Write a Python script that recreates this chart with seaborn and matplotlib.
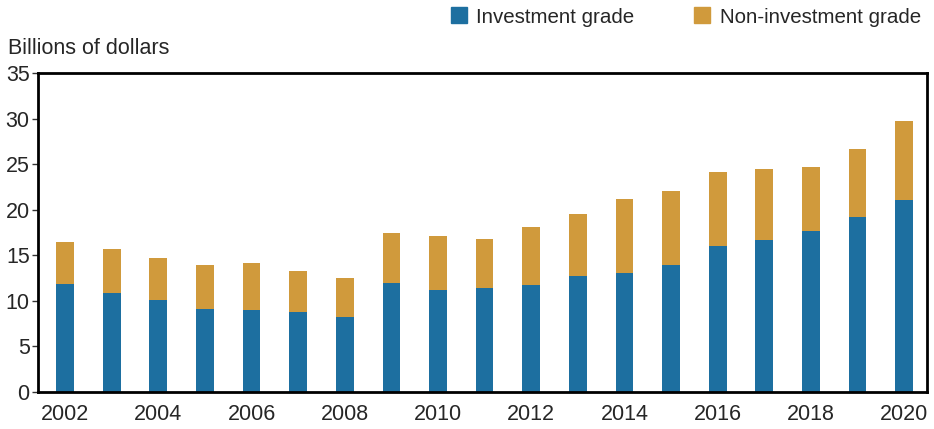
import matplotlib
matplotlib.use("Agg")
import matplotlib.pyplot as plt
import seaborn as sns
import pandas as pd
from matplotlib.patches import Patch

years = list(range(2002, 2021))
investment = [11.8, 10.9, 10.1, 9.1, 9.0, 8.8, 8.2, 12.0, 11.2, 11.4, 11.7, 12.7,
              13.1, 13.9, 16.0, 16.7, 17.7, 19.2, 21.1]
total = [16.5, 15.7, 14.7, 13.9, 14.2, 13.3, 12.5, 17.4, 17.1, 16.8, 18.1, 19.5,
         21.2, 22.1, 24.1, 24.5, 24.7, 26.7, 29.7]
non_investment = [t - i for t, i in zip(total, investment)]

blue = "#1d6fa0"
gold = "#d09a3c"

sns.set_style("white")
plt.rcParams["font.family"] = ["Liberation Sans", "DejaVu Sans"]

df = pd.DataFrame({"year": [str(y) for y in years], "inv": investment,
                   "non": non_investment})
df["total"] = df["inv"] + df["non"]

fig = plt.figure(figsize=(9.34, 4.29), dpi=100)
ax = fig.add_axes([38 / 934, 1 - 392 / 429, (927 - 38) / 934, (392 - 73) / 429])

sns.barplot(data=df, x="year", y="total", color=gold, width=0.38, ax=ax,
            saturation=1, linewidth=0)
sns.barplot(data=df, x="year", y="inv", color=blue, width=0.38, ax=ax,
            saturation=1, linewidth=0)

ax.set_xlim(-0.58, 18.49)
ax.set_ylim(0, 35)
ax.set_yticks(range(0, 36, 5))
ax.set_xticks(range(0, 19, 2))
ax.set_xticklabels([str(y) for y in years[::2]])
ax.set_xlabel("")
ax.set_ylabel("")
ax.tick_params(axis="y", labelsize=15.5, length=4, width=1, direction="out",
               left=True, pad=2, color="#333333")
ax.tick_params(axis="x", labelsize=15.5, length=0, pad=9)
for s in ax.spines.values():
    s.set_visible(True)
    s.set_color("black")
    s.set_linewidth(2)

fig.text(8 / 934, 1 - 48 / 429, "Billions of dollars", fontsize=15.5,
         va="center", ha="left")

handles = [Patch(color=blue, label="Investment grade"),
           Patch(color=gold, label="Non-investment grade")]
fig.legend(handles=handles, loc="center right", bbox_to_anchor=(929 / 934, 1 - 17 / 429),
           ncol=2, frameon=False, fontsize=14.8, handlelength=0.8, handleheight=0.8,
           handletextpad=0.45, columnspacing=2.9, borderaxespad=0)

fig.savefig("out.png", dpi=100)
